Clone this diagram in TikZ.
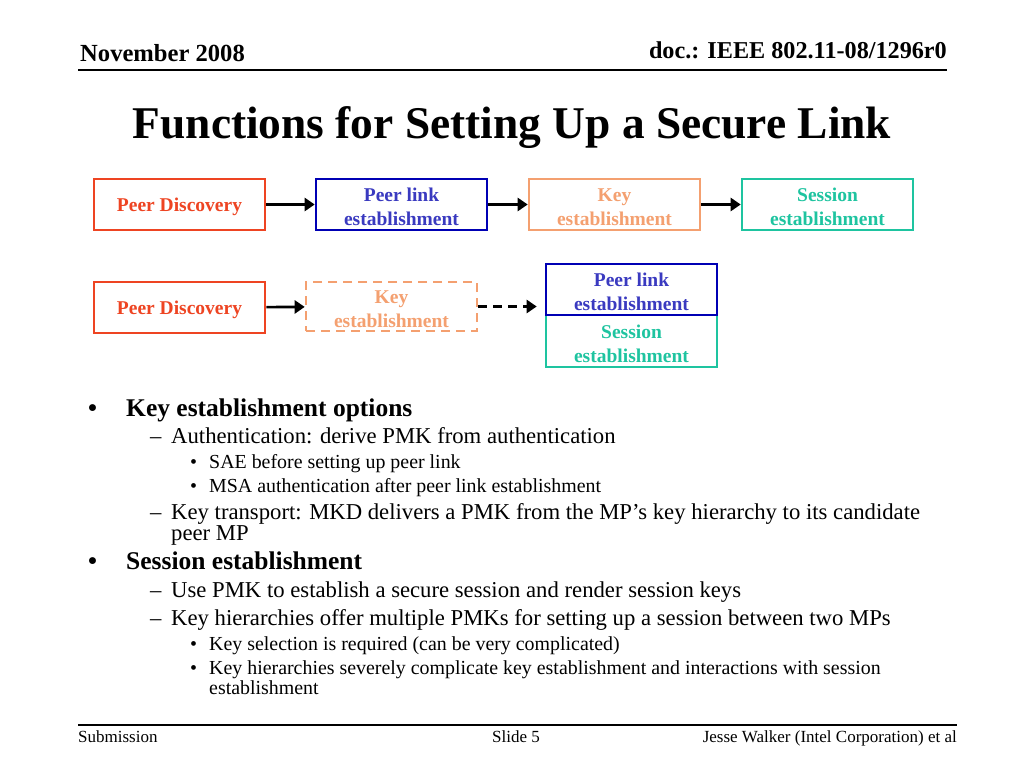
\documentclass[tikz,border=0pt]{standalone}
\usepackage{fontspec}
\setmainfont{Liberation Serif}
\usetikzlibrary{arrows.meta}
\definecolor{cPD}{HTML}{EE4422}
\definecolor{cPL}{HTML}{0000B4}
\definecolor{cPLt}{HTML}{3A3AC0}
\definecolor{cKE}{HTML}{F4A070}
\definecolor{cSE}{HTML}{1EC4A0}
\tikzset{
  box/.style={draw, line width=2.6pt, minimum width=171pt, minimum height=51pt, inner sep=0pt},
  lbl/.style 2 args={label={[inner sep=0pt, align=center, font=\fontsize{19.5}{24}\selectfont\bfseries, text=#1, yshift=-2.5pt]center:{#2}}},
  pd/.style={box, draw=cPD},
  pl/.style={box, draw=cPL},
  ke/.style={box, draw=cKE},
  se/.style={box, draw=cSE},
  arr/.style={line width=2.6pt, -{Triangle[length=10pt,width=13pt]}},
  txt/.style={anchor=base west, inner sep=0pt},
  lone/.style={txt, font=\fontsize{25.5}{28}\selectfont\bfseries},
  ltwo/.style={txt, font=\fontsize{22.7}{24}\selectfont},
  lthree/.style={txt, font=\fontsize{19.9}{20}\selectfont},
  foot/.style={inner sep=0pt, anchor=base, font=\fontsize{17}{18}\selectfont},
}
\begin{document}
\begin{tikzpicture}[x=1pt,y=-1pt]
\useasboundingbox[fill=white] (0,0) rectangle (1024,768);
% header
\node[txt, font=\fontsize{24.6}{26}\selectfont\bfseries] (hdl) at (80,62) {November 2008};
\node[inner sep=0pt, anchor=base east, font=\fontsize{24.2}{26}\selectfont\bfseries] (hdr) at (947,59) {doc.: IEEE 802.11-08/1296r0};
\draw[line width=1.5pt] (78,70) -- (947,70);
% title
\node[inner sep=0pt, anchor=base, font=\fontsize{45.4}{48}\selectfont\bfseries] (title) at (512,138) {Functions for Setting Up a Secure Link};
% row 1
\node[pd, lbl={cPD}{Peer Discovery}] (pd1) at (179.5,204.5) {};
\node[pl, lbl={cPLt}{Peer link\\establishment}] (pl1) at (401.5,204.5) {};
\node[ke, lbl={cKE}{Key\\establishment}] (ke1) at (614.5,204.5) {};
\node[se, lbl={cSE}{Session\\establishment}] (se1) at (827.5,204.5) {};
\draw[arr] (pd1) -- (pl1);
\draw[arr] (pl1) -- (ke1);
\draw[arr] (ke1) -- (se1);
% row 2
\node[pd, lbl={cPD}{Peer Discovery}] (pd2) at (179.5,307.5) {};
\node[ke, dashed, dash pattern=on 9pt off 6pt, minimum height=49pt, lbl={cKE}{Key\\establishment}] (ke2) at (391.5,306.5) {};
\node[se, minimum height=52pt, lbl={cSE}{Session\\establishment}] (se2) at (631.5,341) {};
\node[pl, lbl={cPLt}{Peer link\\establishment}] (pl2) at (631.5,289.5) {};
\draw[arr] (pd2) -- (ke2);
\draw[arr, dashed, dash pattern=on 9pt off 6pt, shorten >=8pt] (ke2.east) -- (ke2.east -| pl2.west);
% bullets
\node[lone] (b1) at (88,416) {•};
\node[lone] (t1) at (126,416) {Key establishment options};
\node[ltwo] (d1) at (150,443) {–};
\node[ltwo] (t2) at (171,443) {Authentication: derive PMK from authentication};
\node[lthree] (b3a) at (190,468) {•};
\node[lthree] (t3a) at (209,468) {SAE before setting up peer link};
\node[lthree] (b3b) at (190,492) {•};
\node[lthree] (t3b) at (209,492) {MSA authentication after peer link establishment};
\node[ltwo] (d2) at (150,519) {–};
\node[ltwo] (t4) at (171,519) {Key transport: MKD delivers a PMK from the MP’s key hierarchy to its candidate};
\node[ltwo] (t4b) at (171,540) {peer MP};
\node[lone] (b2) at (88,569) {•};
\node[lone] (t5) at (126,569) {Session establishment};
\node[ltwo] (d3) at (150,597) {–};
\node[ltwo] (t6) at (171,597) {Use PMK to establish a secure session and render session keys};
\node[ltwo] (d4) at (150,625) {–};
\node[ltwo] (t7) at (171,625) {Key hierarchies offer multiple PMKs for setting up a session between two MPs};
\node[lthree] (b3c) at (190,650) {•};
\node[lthree] (t8) at (209,650) {Key selection is required (can be very complicated)};
\node[lthree] (b3d) at (190,674) {•};
\node[lthree] (t9) at (209,674) {Key hierarchies severely complicate key establishment and interactions with session};
\node[lthree] (t9b) at (209,694) {establishment};
% footer
\draw[line width=1.5pt] (78,725) -- (957,725);
\node[foot, anchor=base west] (fl) at (78,742) {Submission};
\node[foot] (fc) at (516,742) {Slide 5};
\node[foot, anchor=base east] (fr) at (957,742) {Jesse Walker (Intel Corporation) et al};
\end{tikzpicture}
\end{document}
